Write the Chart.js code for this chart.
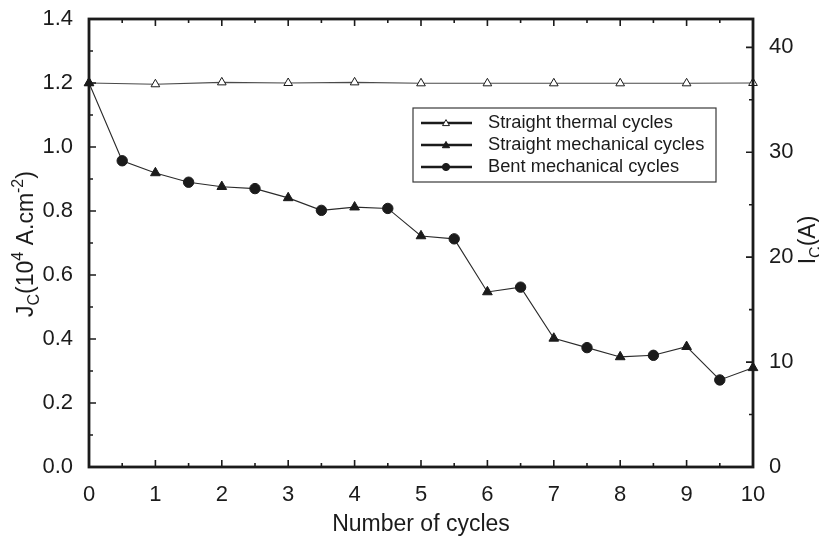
<!DOCTYPE html>
<html>
<head>
<meta charset="utf-8">
<script src="https://cdn.jsdelivr.net/npm/chart.js@4/dist/chart.umd.min.js"></script>
<style>
  html, body { margin: 0; padding: 0; background: #fff; }
  #wrap { width: 819px; height: 539px; }
</style>
</head>
<body>
<div id="wrap"><canvas id="c" width="819" height="539"></canvas></div>
<script>
// Number of cycles at which each series was measured
const thermalCycles = [0, 1, 2, 3, 4, 5, 6, 7, 8, 9, 10];
const straightMechCycles = [0, 1, 2, 3, 4, 5, 6, 7, 8, 9, 10];
const bentMechCycles = [0.5, 1.5, 2.5, 3.5, 4.5, 5.5, 6.5, 7.5, 8.5, 9.5];

// Critical current density Jc (10^4 A.cm^-2)
const thermalJc = [1.200, 1.196, 1.202, 1.200, 1.202, 1.199, 1.199, 1.199, 1.199, 1.199, 1.200];
const straightMechJc = [1.200, 0.919, 0.876, 0.841, 0.812, 0.722, 0.547, 0.402, 0.344, 0.376, 0.310];
const bentMechJc = [0.957, 0.890, 0.870, 0.802, 0.808, 0.713, 0.562, 0.373, 0.349, 0.272];

// Axis tick labels
const xTickValues = [0, 1, 2, 3, 4, 5, 6, 7, 8, 9, 10];
const jcTickValues = [0, 0.2, 0.4, 0.6, 0.8, 1.0, 1.2, 1.4];
const icTickValues = [0, 10, 20, 30, 40];

const seriesNames = ['Straight thermal cycles', 'Straight mechanical cycles', 'Bent mechanical cycles'];

// Ic (A) corresponding to the top of the Jc axis
const IC_AXIS_MAX = 42.7;

const INK = '#1b1b1b';
const FONT = '"Liberation Sans", Arial, Helvetica, sans-serif';

function toPoints(xs, ys) { return xs.map((x, i) => ({ x: x, y: ys[i] })); }

// Mechanical cycling: straight and bent measurements joined in cycle order
const mechanicalPath = toPoints(straightMechCycles, straightMechJc)
  .concat(toPoints(bentMechCycles, bentMechJc))
  .sort((a, b) => a.x - b.x);

function fixTicks(values) {
  return function (scale) { scale.ticks = values.map(v => ({ value: v })); };
}

// Frame and inward tick marks
const framePlugin = {
  id: 'frame',
  afterDatasetsDraw(chart) {
    const { ctx, chartArea: a, scales } = chart;
    ctx.save();
    ctx.strokeStyle = INK;
    ctx.lineWidth = 1.6;
    ctx.beginPath();
    // x: majors every cycle, minors every half cycle
    for (let k = 0; k <= 20; k++) {
      const v = k / 2;
      const px = scales.x.getPixelForValue(v);
      const len = (k % 2 === 0) ? 7 : 4;
      ctx.moveTo(px, a.bottom); ctx.lineTo(px, a.bottom - len);
      ctx.moveTo(px, a.top); ctx.lineTo(px, a.top + len);
    }
    // left: majors every 0.2, minors every 0.1
    for (let k = 0; k <= 14; k++) {
      const py = scales.y.getPixelForValue(k / 10);
      const len = (k % 2 === 0) ? 7 : 4;
      ctx.moveTo(a.left, py); ctx.lineTo(a.left + len, py);
    }
    // right: majors every 10 A, minors every 5 A
    for (let k = 0; k <= 8; k++) {
      const py = scales.y2.getPixelForValue(k * 5);
      const len = (k % 2 === 0) ? 7 : 4;
      ctx.moveTo(a.right, py); ctx.lineTo(a.right - len, py);
    }
    ctx.stroke();
    ctx.lineWidth = 2.8;
    ctx.strokeRect(a.left, a.top, a.right - a.left, a.bottom - a.top);
    ctx.restore();
  }
};

// Draws a run of text pieces with sub/superscripts along the current baseline
function drawRichText(ctx, pieces, size, centerX) {
  const small = Math.round(size * 0.68);
  const widths = pieces.map(p => {
    ctx.font = (p.sub || p.sup ? small : size) + 'px ' + FONT;
    return ctx.measureText(p.t).width;
  });
  const total = widths.reduce((s, w) => s + w, 0);
  let x = centerX - total / 2;
  pieces.forEach((p, i) => {
    ctx.font = (p.sub || p.sup ? small : size) + 'px ' + FONT;
    const dy = p.sub ? size * 0.28 : (p.sup ? -size * 0.42 : 0);
    ctx.fillText(p.t, x, dy);
    x += widths[i];
  });
}

const titlesPlugin = {
  id: 'axisTitles',
  afterDraw(chart) {
    const { ctx, chartArea: a } = chart;
    ctx.save();
    ctx.fillStyle = INK;
    ctx.textBaseline = 'alphabetic';
    ctx.textAlign = 'left';
    // bottom title
    ctx.save();
    ctx.translate(0, 531);
    drawRichText(ctx, [{ t: 'Number of cycles' }], 23, (a.left + a.right) / 2);
    ctx.restore();
    // left title
    ctx.save();
    ctx.translate(33, 244);
    ctx.rotate(-Math.PI / 2);
    drawRichText(ctx, [
      { t: 'J' }, { t: 'C', sub: true }, { t: '(10' }, { t: '4', sup: true },
      { t: ' A.cm' }, { t: '-2', sup: true }, { t: ')' }
    ], 23, 0);
    ctx.restore();
    // right title
    ctx.save();
    ctx.translate(815, 240);
    ctx.rotate(-Math.PI / 2);
    drawRichText(ctx, [{ t: 'I' }, { t: 'C', sub: true }, { t: '(A)' }], 23, 0);
    ctx.restore();
    ctx.restore();
  }
};

function drawMarker(ctx, style, x, y, r, fill) {
  ctx.beginPath();
  if (style === 'triangle') {
    for (let i = 0; i < 3; i++) {
      const ang = -Math.PI / 2 + i * 2 * Math.PI / 3;
      const px = x + r * Math.cos(ang), py = y + r * Math.sin(ang) + r * 0.15;
      if (i === 0) ctx.moveTo(px, py); else ctx.lineTo(px, py);
    }
    ctx.closePath();
  } else {
    ctx.arc(x, y, r, 0, Math.PI * 2);
  }
  ctx.fillStyle = fill;
  ctx.fill();
  ctx.lineWidth = 1;
  ctx.strokeStyle = INK;
  ctx.stroke();
}

const legendPlugin = {
  id: 'boxLegend',
  afterDraw(chart) {
    const { ctx } = chart;
    const box = { x: 413, y: 108, w: 303, h: 74 };
    const rows = [123, 145, 167];
    const markers = [
      { style: 'triangle', r: 4, fill: '#fff' },
      { style: 'triangle', r: 4.2, fill: INK },
      { style: 'circle', r: 3.6, fill: INK }
    ];
    ctx.save();
    ctx.fillStyle = '#fff';
    ctx.fillRect(box.x, box.y, box.w, box.h);
    ctx.strokeStyle = '#3a3a3a';
    ctx.lineWidth = 1.2;
    ctx.strokeRect(box.x, box.y, box.w, box.h);
    seriesNames.forEach((name, i) => {
      const y = rows[i];
      ctx.strokeStyle = INK;
      ctx.lineWidth = 2.4;
      ctx.beginPath();
      ctx.moveTo(421, y); ctx.lineTo(472, y);
      ctx.stroke();
      drawMarker(ctx, markers[i].style, 446, y, markers[i].r, markers[i].fill);
      ctx.fillStyle = INK;
      ctx.font = '18.3px ' + FONT;
      ctx.textBaseline = 'middle';
      ctx.textAlign = 'left';
      ctx.fillText(name, 488, y);
    });
    ctx.restore();
  }
};

const tickFont = { family: FONT, size: 22 };

function noPadY(s, w) { s.width = w; s.paddingTop = 0; s.paddingBottom = 0; }

new Chart(document.getElementById('c'), {
  type: 'scatter',
  data: {
    datasets: [
      {
        label: 'mechanical path',
        data: mechanicalPath,
        showLine: true,
        borderColor: '#2a2a2a',
        borderWidth: 1.1,
        pointRadius: 0,
        order: 3
      },
      {
        label: seriesNames[0],
        data: toPoints(thermalCycles, thermalJc),
        showLine: true,
        borderColor: '#4a4a4a',
        borderWidth: 1.1,
        pointStyle: 'triangle',
        pointRadius: 5,
        pointBackgroundColor: '#fff',
        pointBorderColor: INK,
        pointBorderWidth: 1,
        order: 2
      },
      {
        label: seriesNames[1],
        data: toPoints(straightMechCycles, straightMechJc),
        showLine: false,
        pointStyle: 'triangle',
        pointRadius: 5.6,
        pointBackgroundColor: INK,
        pointBorderColor: INK,
        pointBorderWidth: 1,
        order: 1
      },
      {
        label: seriesNames[2],
        data: toPoints(bentMechCycles, bentMechJc),
        showLine: false,
        pointStyle: 'circle',
        pointRadius: 5.2,
        pointBackgroundColor: INK,
        pointBorderColor: INK,
        pointBorderWidth: 1,
        order: 1
      }
    ]
  },
  options: {
    responsive: false,
    devicePixelRatio: 1,
    animation: false,
    clip: false,
    layout: { padding: { top: 19, left: 0, right: 0, bottom: 0 } },
    plugins: {
      legend: { display: false },
      tooltip: { enabled: false },
      title: { display: false }
    },
    scales: {
      x: {
        type: 'linear',
        position: 'bottom',
        min: 0, max: 10,
        afterBuildTicks: fixTicks(xTickValues),
        afterFit(s) { s.height = 72; s.paddingLeft = 0; s.paddingRight = 0; },
        grid: { display: false },
        border: { display: false },
        ticks: { font: tickFont, color: INK, padding: 7, maxRotation: 0, autoSkip: false,
                 callback: v => String(v) }
      },
      y: {
        type: 'linear',
        position: 'left',
        min: 0, max: 1.4,
        afterBuildTicks: fixTicks(jcTickValues),
        afterFit(s) { noPadY(s, 89); },
        grid: { display: false },
        border: { display: false },
        ticks: { font: tickFont, color: INK, padding: 8, autoSkip: false,
                 callback: v => Number(v).toFixed(1) }
      },
      y2: {
        type: 'linear',
        position: 'right',
        min: 0, max: IC_AXIS_MAX,
        afterBuildTicks: fixTicks(icTickValues),
        afterFit(s) { noPadY(s, 66); },
        grid: { display: false },
        border: { display: false },
        ticks: { font: tickFont, color: INK, padding: 8, autoSkip: false,
                 callback: v => String(v) }
      }
    }
  },
  plugins: [framePlugin, titlesPlugin, legendPlugin]
});
</script>
</body>
</html>
